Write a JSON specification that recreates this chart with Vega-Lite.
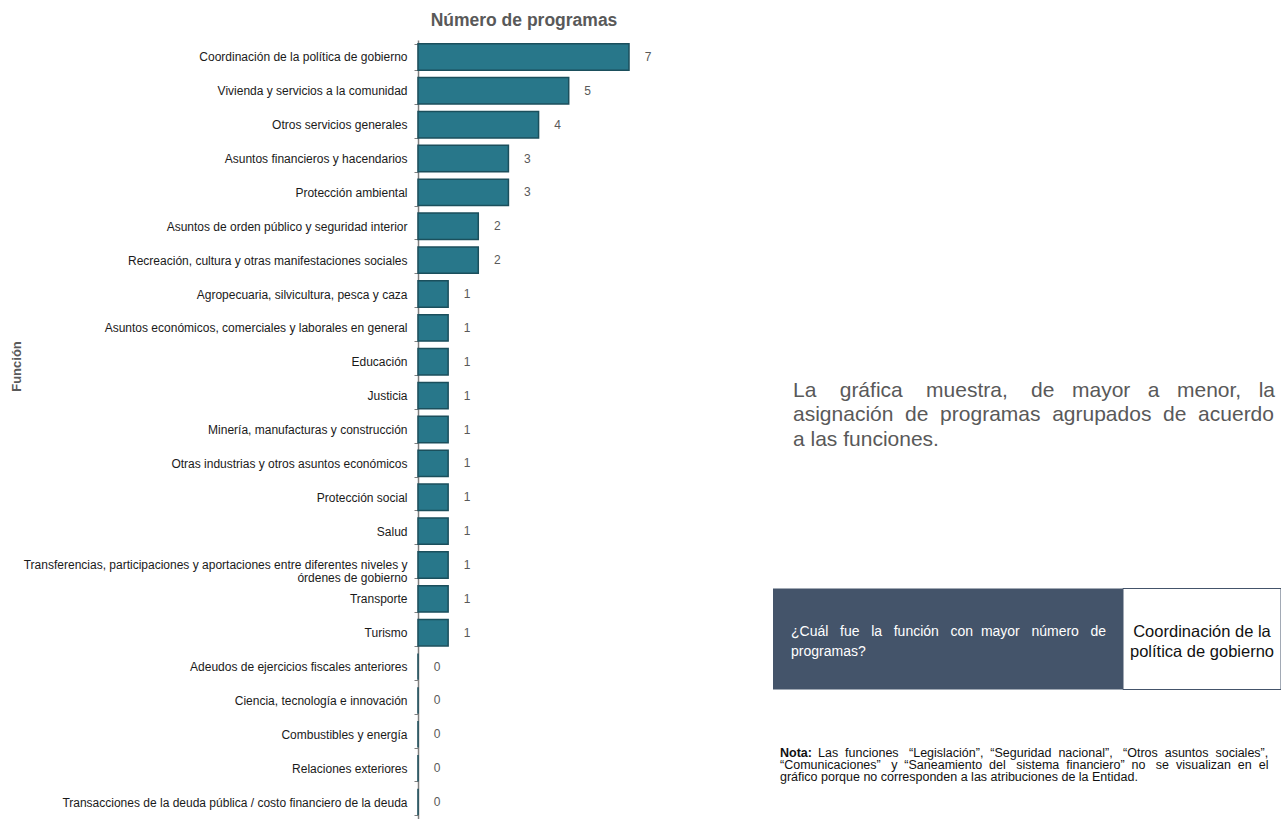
{
  "$schema": "https://vega.github.io/schema/vega-lite/v6.json",
  "padding": {"left": 10, "top": 11, "right": 0, "bottom": 0},
  "background": "white",
  "config": {"view": {"stroke": null}, "font": "Liberation Sans"},
  "datasets": {
    "programas": [
      {"funcion": "Coordinación de la política de gobierno", "programas": 7},
      {"funcion": "Vivienda y servicios a la comunidad", "programas": 5},
      {"funcion": "Otros servicios generales", "programas": 4},
      {"funcion": "Asuntos financieros y hacendarios", "programas": 3},
      {"funcion": "Protección ambiental", "programas": 3},
      {"funcion": "Asuntos de orden público y seguridad interior", "programas": 2},
      {"funcion": "Recreación, cultura y otras manifestaciones sociales", "programas": 2},
      {"funcion": "Agropecuaria, silvicultura, pesca y caza", "programas": 1},
      {"funcion": "Asuntos económicos, comerciales y laborales en general", "programas": 1},
      {"funcion": "Educación", "programas": 1},
      {"funcion": "Justicia", "programas": 1},
      {"funcion": "Minería, manufacturas y construcción", "programas": 1},
      {"funcion": "Otras industrias y otros asuntos económicos", "programas": 1},
      {"funcion": "Protección social", "programas": 1},
      {"funcion": "Salud", "programas": 1},
      {"funcion": "Transferencias, participaciones y aportaciones entre diferentes niveles y|órdenes de gobierno", "programas": 1},
      {"funcion": "Transporte", "programas": 1},
      {"funcion": "Turismo", "programas": 1},
      {"funcion": "Adeudos de ejercicios fiscales anteriores", "programas": 0},
      {"funcion": "Ciencia, tecnología e innovación", "programas": 0},
      {"funcion": "Combustibles y energía", "programas": 0},
      {"funcion": "Relaciones exteriores", "programas": 0},
      {"funcion": "Transacciones de la deuda pública / costo financiero de la deuda", "programas": 0}
    ]
  },
  "hconcat": [
    {
      "width": 211,
      "height": 779,
      "data": {"name": "programas"},
      "encoding": {
        "y": {
          "field": "funcion",
          "type": "nominal",
          "sort": null,
          "scale": {"paddingInner": 0.22, "paddingOuter": 0.11},
          "axis": {
            "title": "Función",
            "titleFontSize": 13,
            "titleFontWeight": "bold",
            "titleColor": "#595959",
            "titleX": -395,
            "titleY": 326,
            "labelFontSize": 12,
            "labelColor": "#1a1a1a",
            "labelLimit": 600,
            "labelExpr": "split(datum.label, '|')",
            "labelLineHeight": 12.5,
            "labelPadding": 7,
            "tickBand": "extent",
            "tickSize": 4,
            "tickColor": "#7f7f7f",
            "domainColor": "#7f7f7f",
            "domainWidth": 1.5,
            "grid": false
          }
        },
        "x": {
          "field": "programas",
          "type": "quantitative",
          "scale": {"domain": [0, 7], "nice": false},
          "axis": {
            "orient": "top",
            "labels": false,
            "ticks": false,
            "domain": false,
            "grid": false,
            "title": "Número de programas",
            "titleFontSize": 17.5,
            "titleFontWeight": "bold",
            "titleColor": "#595959",
            "titlePadding": 11
          }
        }
      },
      "layer": [
        {"mark": {"type": "bar", "color": "#28778A", "stroke": "#1B4F5C", "strokeWidth": 1.5}},
        {
          "mark": {"type": "text", "align": "center", "baseline": "middle", "dx": 19, "fontSize": 12, "color": "#595959"},
          "encoding": {"text": {"field": "programas", "type": "quantitative"}}
        }
      ]
    },
    {
      "width": 511,
      "height": 780,
      "data": {"values": [{}]},
      "layer": [
        {
          "mark": {"type": "text", "align": "left", "baseline": "middle", "fontSize": 21, "lineHeight": 24.5, "color": "#595959"},
          "encoding": {
            "x": {"datum": 22, "type": "quantitative", "scale": {"domain": [0, 511], "nice": false, "zero": false}, "axis": null},
            "y": {"datum": 350.5, "type": "quantitative", "scale": {"domain": [0, 780], "nice": false, "zero": false, "reverse": true}, "axis": null},
            "text": {"value": [
              "La \u00a0\u00a0\u00a0gráfica \u00a0\u00a0\u00a0muestra, \u00a0\u00a0\u00a0de \u00a0\u00a0mayor \u00a0\u00a0a \u00a0\u00a0menor, \u00a0\u00a0la",
              "asignación \u00a0de \u00a0programas \u00a0agrupados \u00a0de \u00a0acuerdo",
              "a las funciones."
            ]}
          }
        },
        {
          "mark": {"type": "rect", "color": "#44546A"},
          "encoding": {
            "x": {"datum": 2, "type": "quantitative"},
            "x2": {"datum": 352},
            "y": {"datum": 548.5, "type": "quantitative"},
            "y2": {"datum": 649.5}
          }
        },
        {
          "mark": {"type": "rect", "fill": "white", "stroke": "#44546A", "strokeWidth": 1},
          "encoding": {
            "x": {"datum": 352, "type": "quantitative"},
            "x2": {"datum": 510},
            "y": {"datum": 548.5, "type": "quantitative"},
            "y2": {"datum": 649.5}
          }
        },
        {
          "mark": {"type": "text", "align": "left", "baseline": "middle", "fontSize": 14, "lineHeight": 20, "color": "white"},
          "encoding": {
            "x": {"datum": 20, "type": "quantitative"},
            "y": {"datum": 591.5, "type": "quantitative"},
            "text": {"value": ["¿Cuál \u00a0\u00a0fue \u00a0\u00a0la \u00a0\u00a0función \u00a0\u00a0con \u00a0mayor \u00a0\u00a0número \u00a0\u00a0de", "programas?"]}
          }
        },
        {
          "mark": {"type": "text", "align": "center", "baseline": "middle", "fontSize": 16.5, "lineHeight": 20, "color": "#111111"},
          "encoding": {
            "x": {"datum": 431, "type": "quantitative"},
            "y": {"datum": 591.5, "type": "quantitative"},
            "text": {"value": ["Coordinación de la", "política de gobierno"]}
          }
        },
        {
          "mark": {"type": "text", "align": "left", "baseline": "middle", "fontSize": 12.5, "fontWeight": "bold", "color": "#111111"},
          "encoding": {
            "x": {"datum": 9, "type": "quantitative"},
            "y": {"datum": 712.5, "type": "quantitative"},
            "text": {"value": "Nota:"}
          }
        },
        {
          "mark": {"type": "text", "align": "left", "baseline": "middle", "fontSize": 12.5, "color": "#111111"},
          "encoding": {
            "x": {"datum": 47, "type": "quantitative"},
            "y": {"datum": 712.5, "type": "quantitative"},
            "text": {"value": "Las \u00a0funciones \u00a0\u00a0“Legislación”, \u00a0“Seguridad \u00a0nacional”, \u00a0\u00a0“Otros \u00a0asuntos \u00a0sociales”,"}
          }
        },
        {
          "mark": {"type": "text", "align": "left", "baseline": "middle", "fontSize": 12.5, "lineHeight": 12.7, "color": "#111111"},
          "encoding": {
            "x": {"datum": 9, "type": "quantitative"},
            "y": {"datum": 724.5, "type": "quantitative"},
            "text": {"value": ["“Comunicaciones” \u00a0\u00a0y \u00a0“Saneamiento \u00a0del \u00a0\u00a0sistema \u00a0financiero” \u00a0no \u00a0\u00a0se \u00a0visualizan \u00a0en \u00a0el", "gráfico porque no corresponden a las atribuciones de la Entidad."]}
          }
        }
      ]
    }
  ],
  "spacing": 119
}
